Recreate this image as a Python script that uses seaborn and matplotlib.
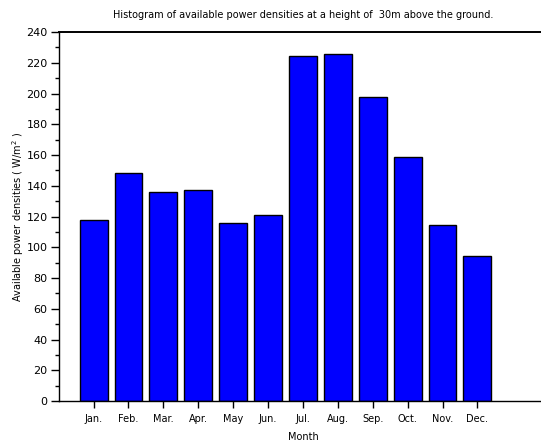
import matplotlib
matplotlib.use("Agg")
import matplotlib.pyplot as plt
import seaborn as sns
from matplotlib.ticker import MultipleLocator

# monthly available power densities at 30 m (W/m^2)
months = ["Jan.", "Feb.", "Mar.", "Apr.", "May", "Jun.",
          "Jul.", "Aug.", "Sep.", "Oct.", "Nov.", "Dec."]
power = [118, 148.5, 136, 137, 116, 121, 224.5, 226, 197.5, 159, 114.5, 94.5]
y_ticks = list(range(0, 241, 20))

sns.set_theme(style="white")
plt.rcParams['font.family'] = ['DejaVu Sans']
plt.rcParams['text.color'] = 'black'
plt.rcParams['axes.labelcolor'] = 'black'
plt.rcParams['xtick.color'] = 'black'
plt.rcParams['ytick.color'] = 'black'

fig = plt.figure(figsize=(5.41, 4.41), dpi=100)
# the right end of the axes runs past the picture edge, as in the original
ax = fig.add_axes([0.1085, 0.0907, 0.903, 0.8367])

sns.barplot(x=months, y=power, color="#0000ff", saturation=1,
            edgecolor="black", linewidth=1.0, width=0.8, ax=ax)

ax.set_xlim(-1, 13)
ax.set_ylim(0, 240)
ax.set_yticks(y_ticks)
ax.yaxis.set_minor_locator(MultipleLocator(10))

for side in ["left", "bottom", "top"]:
    ax.spines[side].set_visible(True)
    ax.spines[side].set_color("black")
    ax.spines[side].set_linewidth(1.0)
ax.spines["top"].set_linewidth(1.4)
ax.spines["right"].set_visible(False)

ax.tick_params(axis="y", which="major", direction="out", length=6, width=1,
               color="black", labelsize=8, pad=2, left=True)
ax.tick_params(axis="y", which="minor", direction="out", length=3, width=1,
               color="black", left=True)
ax.tick_params(axis="x", which="major", direction="out", length=5, width=1,
               color="black", labelsize=7, pad=4, bottom=True)
ax.tick_params(axis="x", which="minor", bottom=False)

ax.set_title("Histogram of available power densities at a height of  30m above the ground.",
             fontsize=7, pad=10)
ax.set_xlabel("Month", fontsize=7, labelpad=6)
ax.set_ylabel("Available power densities ( W/m$^2$ )", fontsize=7, labelpad=0)
ax.grid(False)

fig.savefig("out.png", dpi=100)
